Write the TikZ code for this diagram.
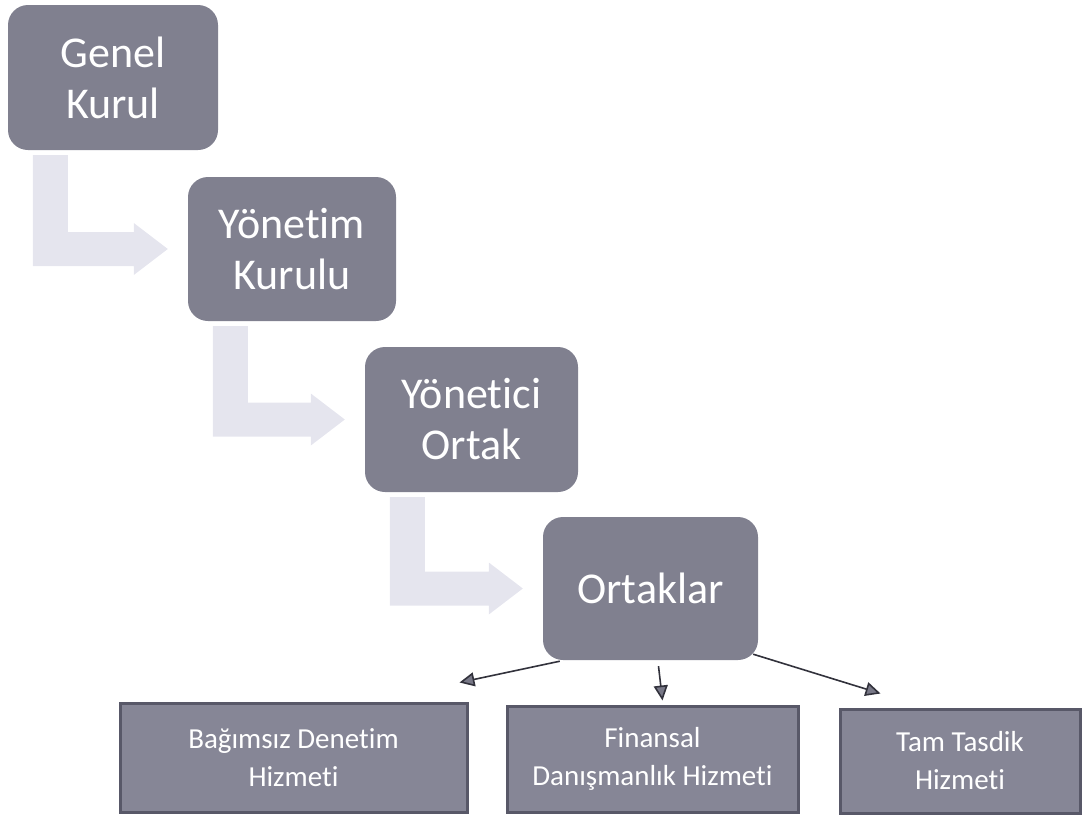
\documentclass[tikz,border=0pt]{standalone}
\usepackage{fontspec}
\setmainfont[Ligatures=NoCommon]{Carlito}
\usetikzlibrary{arrows.meta,calc}

\definecolor{boxgray}{RGB}{128,128,143}
\definecolor{lowgray}{RGB}{134,134,150}
\definecolor{lowedge}{RGB}{88,88,104}
\definecolor{bentgray}{RGB}{229,229,238}
\definecolor{tipgray}{RGB}{120,120,135}
\definecolor{linegray}{RGB}{50,50,60}

\begin{document}
\begin{tikzpicture}[x=1pt, y=-1pt,
	main/.style = {fill=boxgray, rounded corners=20pt, text=white, align=center, inner sep=0pt, font=\fontsize{44}{51}\selectfont},
	service/.style = {fill=lowgray, draw=lowedge, line width=3pt, text=white, align=center, inner sep=0pt, font=\fontsize{29}{38}\selectfont},
	bent/.style = {fill=bentgray},
	link/.style = {draw=linegray, line width=1.6pt, -{Triangle[length=15pt,width=14pt,fill=tipgray]}}]

			\useasboundingbox (0,0) rectangle (1085,817);

			\node[main, minimum width=210pt, minimum height=145pt] (GK) at (113,77.5) {Genel\\Kurul};
			\node[main, minimum width=208pt, minimum height=144pt] (YK) at (292,249) {Yönetim\\Kurulu};
			\node[main, minimum width=213pt, minimum height=145pt] (YO) at (471.5,419.5) {Yönetici\\Ortak};
			\node[main, minimum width=215pt, minimum height=143pt] (OR) at (650.5,588.5) {Ortaklar};

			\node[service, minimum width=347pt, minimum height=109pt] (BD) at (293.5,757.5) {Bağımsız Denetim\\Hizmeti};
			\node[service, minimum width=291pt, minimum height=106pt] (FD) at (652.5,759) {Finansal\\Danışmanlık Hizmeti};
			\node[service, minimum width=240pt, minimum height=104pt] (TT) at (960,761) {Tam Tasdik\\Hizmeti};

			\fill[bent] let \p1 = (GK.south west), \p2 = (YK.west) in
				(\x1+25pt,\y1-5pt) -- (\x1+60pt,\y1-5pt) -- (\x1+60pt,\y2+17pt) -- (\x2-54pt,\y2+17pt)
				-- (\x2-54pt,\y2+26pt) -- (\x2-20pt,\y2) -- (\x2-54pt,\y2-26pt) -- (\x2-54pt,\y2-17pt)
				-- (\x1+25pt,\y2-17pt) -- cycle;
			\fill[bent] let \p1 = (YK.south west), \p2 = (YO.west) in
				(\x1+25pt,\y1-5pt) -- (\x1+60pt,\y1-5pt) -- (\x1+60pt,\y2+17pt) -- (\x2-54pt,\y2+17pt)
				-- (\x2-54pt,\y2+26pt) -- (\x2-20pt,\y2) -- (\x2-54pt,\y2-26pt) -- (\x2-54pt,\y2-17pt)
				-- (\x1+25pt,\y2-17pt) -- cycle;
			\fill[bent] let \p1 = (YO.south west), \p2 = (OR.west) in
				(\x1+25pt,\y1-5pt) -- (\x1+60pt,\y1-5pt) -- (\x1+60pt,\y2+17pt) -- (\x2-54pt,\y2+17pt)
				-- (\x2-54pt,\y2+26pt) -- (\x2-20pt,\y2) -- (\x2-54pt,\y2-26pt) -- (\x2-54pt,\y2-17pt)
				-- (\x1+25pt,\y2-17pt) -- cycle;

			\draw[link] ([xshift=17pt,yshift=-1pt]OR.south west) -- ([xshift=-9pt,yshift=19pt]BD.north east);
			\draw[link] ([xshift=8pt,yshift=-6pt]OR.south) -- ([xshift=10pt,yshift=4pt]FD.north);
			\draw[link] ([xshift=-5pt,yshift=6pt]OR.south east) -- ([xshift=42pt,yshift=14pt]TT.north west);
		\end{tikzpicture}
\end{document}
